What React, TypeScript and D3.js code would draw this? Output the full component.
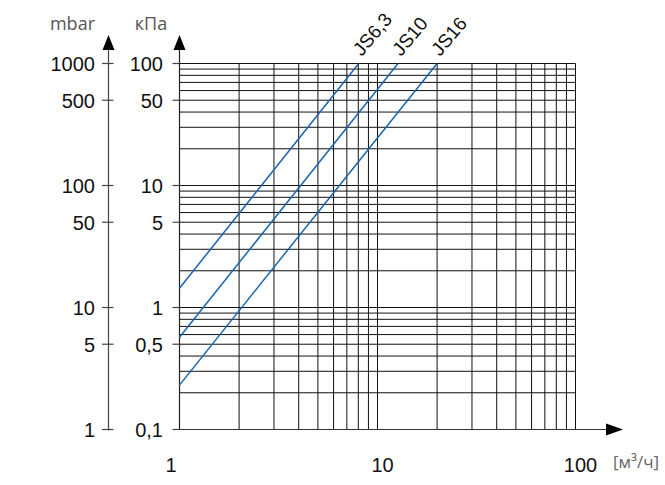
import React from "react";
import * as d3 from "d3";

const flowTicks = [1, 10, 100];
const flowGrid = [1, 2, 3, 4, 5, 6, 7, 8, 9, 10, 20, 30, 40, 50, 60, 70, 80, 90, 100];
const mbarGrid = [
  1, 2, 3, 4, 5, 6, 7, 8, 9,
  10, 20, 30, 40, 50, 60, 70, 80, 90,
  100, 200, 300, 400, 500, 600, 700, 800, 900, 1000,
];
const mbarTicks = [1000, 500, 100, 50, 10, 5, 1];
const kpaTicks = [100, 50, 10, 5, 1, 0.5, 0.1];

const seriesNames = ["JS6,3", "JS10", "JS16"];
const seriesFlow = [
  [1, 8.04],
  [1, 12.7],
  [1, 20.0],
];
const seriesDp = [
  [14.4, 1000],
  [5.7, 1000],
  [2.31, 1000],
];

const W = 665;
const H = 485;

export default function App() {
  const x = d3.scaleLog().domain([1, 100]).range([179.5, 575.5]);
  const y = d3.scaleLog().domain([1, 1000]).range([429.5, 63.5]);
  const yk = d3.scaleLog().domain([0.1, 100]).range([429.5, 63.5]);
  const line = d3
    .line<[number, number]>()
    .x((d) => x(d[0]))
    .y((d) => y(d[1]));

  const numFont = "'Liberation Sans', Arial, sans-serif";
  const headFont = "'Open Sans', 'Noto Sans', sans-serif";
  const axisX = 108.5;
  const plotL = x(1);
  const plotR = x(100);
  const top = y(1000);
  const bottom = y(1);

  return (
    <svg
      width={W}
      height={H}
      style={{ position: "absolute", left: 0, top: 0, background: "#fff" }}
    >
      {/* grid */}
      {flowGrid.map((q) => (
        <line
          key={"v" + q}
          x1={x(q)}
          x2={x(q)}
          y1={top}
          y2={bottom}
          stroke="#111"
          strokeWidth={1}
        />
      ))}
      {mbarGrid.map((p) => (
        <line
          key={"h" + p}
          x1={plotL}
          x2={plotR}
          y1={y(p)}
          y2={y(p)}
          stroke="#111"
          strokeWidth={1}
        />
      ))}

      {/* mbar axis */}
      <line x1={axisX} x2={axisX} y1={48} y2={bottom + 1} stroke="#444" strokeWidth={1.2} />
      <path d={`M${axisX},35 L${axisX - 6},50 L${axisX + 6},50 Z`} fill="#000" />
      {mbarTicks.map((p) => (
        <g key={"mt" + p}>
          <line x1={axisX - 6.5} x2={axisX + 5} y1={y(p)} y2={y(p)} stroke="#444" strokeWidth={1.2} />
          <text
            x={95}
            y={y(p) + 7.5}
            textAnchor="end"
            fontFamily={numFont}
            fontSize={20}
            fill="#111"
          >
            {p}
          </text>
        </g>
      ))}

      {/* kPa axis */}
      <line x1={plotL} x2={plotL} y1={48} y2={bottom} stroke="#222" strokeWidth={1.2} />
      <path d={`M${plotL},35 L${plotL - 6},50 L${plotL + 6},50 Z`} fill="#000" />
      {kpaTicks.map((k) => (
        <g key={"kt" + k}>
          <line x1={plotL - 7} x2={plotL} y1={yk(k)} y2={yk(k)} stroke="#444" strokeWidth={1.2} />
          <text
            x={163}
            y={yk(k) + 7.5}
            textAnchor="end"
            fontFamily={numFont}
            fontSize={20}
            fill="#111"
          >
            {String(k).replace(".", ",")}
          </text>
        </g>
      ))}

      {/* x axis */}
      <line x1={plotL} x2={608} y1={bottom} y2={bottom} stroke="#333" strokeWidth={1.2} />
      <path d={`M623,${bottom} L606,${bottom - 6} L606,${bottom + 6} Z`} fill="#000" />
      {flowTicks.map((q, i) => (
        <text
          key={"xt" + q}
          x={i === 0 ? x(q) - 3 : x(q) + 5}
          y={472}
          textAnchor={i === 0 ? "end" : "middle"}
          fontFamily={numFont}
          fontSize={20}
          fill="#111"
        >
          {q}
        </text>
      ))}

      {/* headers */}
      <text x={95} y={30} textAnchor="end" fontFamily={headFont} fontSize={18} fill="#555">
        mbar
      </text>
      <text x={151} y={30} textAnchor="middle" fontFamily={headFont} fontSize={18} fill="#555">
        кПа
      </text>
      <text x={613} y={468} fontFamily={headFont} fontSize={17} fill="#666">
        [м³/ч]
      </text>

      {/* series */}
      {seriesNames.map((name, i) => {
        const pts = seriesFlow[i].map((q, j) => [q, seriesDp[i][j]] as [number, number]);
        const end = pts[pts.length - 1];
        const ex = x(end[0]) + 3;
        const ey = 57;
        return (
          <g key={name}>
            <path d={line(pts) || ""} fill="none" stroke="#1b64ad" strokeWidth={1.5} />
            <text
              x={ex}
              y={ey}
              transform={`rotate(-50 ${ex} ${ey})`}
              fontFamily={numFont}
              fontSize={19}
              fill="#111"
            >
              {name}
            </text>
          </g>
        );
      })}
    </svg>
  );
}
